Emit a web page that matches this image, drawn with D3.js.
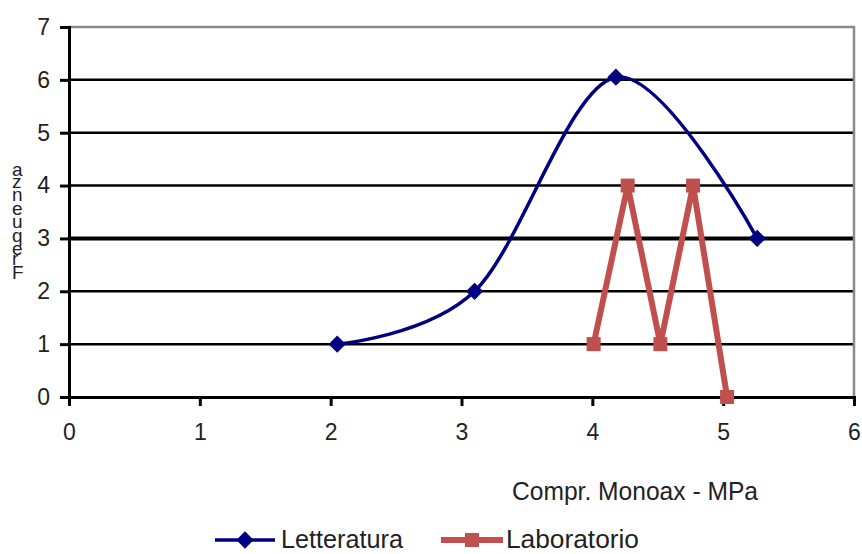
<html>
<head>
<script src="https://d3js.org/d3.v7.min.js"></script>
<style>
  body { margin: 0; background: #fff; }
  text { font-family: "Liberation Sans", Arial, sans-serif; fill: #222; }
</style>
</head>
<body>
<script>
// data
var letteraturaX = [2.05, 3.1, 4.18, 5.26];
var letteraturaY = [1, 2, 6.05, 3];
var laboratorioX = [4.01, 4.27, 4.52, 4.77, 5.03];
var laboratorioY = [1, 4, 1, 4, 0];
var xTicks = [0, 1, 2, 3, 4, 5, 6];
var yTicks = [0, 1, 2, 3, 4, 5, 6, 7];
var seriesNames = ["Letteratura", "Laboratorio"];
var xTitle = "Compr. Monoax - MPa";
var yTitle = "Frequenza";

var width = 862, height = 554;
var blue = "#000080", red = "#c0504d";

var xScale = d3.scaleLinear().domain([0, 6]).range([69, 854]);
var yScale = d3.scaleLinear().domain([0, 7]).range([397, 27]);

var svg = d3.select("body").append("svg")
    .attr("width", width)
    .attr("height", height);

// gridlines
svg.append("g")
    .selectAll("line")
    .data(yTicks.filter(function(d) { return d > 0 && d < 7; }))
    .enter()
    .append("line")
    .attr("x1", xScale(0))
    .attr("x2", xScale(6))
    .attr("y1", function(d) { return yScale(d); })
    .attr("y2", function(d) { return yScale(d); })
    .attr("stroke", "#000")
    .attr("stroke-width", function(d) { return d == 3 ? 4 : 2.5; });

// plot border top / right (grey)
svg.append("path")
    .attr("d", "M" + xScale(0) + "," + yScale(7) + "H" + xScale(6) + "V" + yScale(0))
    .attr("fill", "none")
    .attr("stroke", "#8a8a8a")
    .attr("stroke-width", 2.5);

// y axis
var yAxis = d3.axisLeft(yScale)
    .tickValues(yTicks)
    .tickSize(9)
    .tickPadding(10)
    .tickFormat(d3.format("d"));
var gy = svg.append("g")
    .attr("transform", "translate(" + xScale(0) + ",0)")
    .call(yAxis);
gy.select(".domain").attr("stroke", "#000").attr("stroke-width", 3);
gy.selectAll(".tick line").attr("stroke", "#000").attr("stroke-width", 3);
gy.selectAll(".tick text").attr("font-size", 23).attr("fill", "#222")
    .attr("font-family", "Liberation Sans, Arial");

// x axis
var xAxis = d3.axisBottom(xScale)
    .tickValues(xTicks)
    .tickSize(9)
    .tickPadding(18)
    .tickFormat(d3.format("d"));
var gx = svg.append("g")
    .attr("transform", "translate(0," + yScale(0) + ")")
    .call(xAxis);
gx.select(".domain").attr("stroke", "#000").attr("stroke-width", 3);
gx.selectAll(".tick line").attr("stroke", "#000").attr("stroke-width", 3);
gx.selectAll(".tick text").attr("font-size", 23).attr("fill", "#222")
    .attr("font-family", "Liberation Sans, Arial");

// series
var lett = letteraturaX.map(function(x, i) { return {x: x, y: letteraturaY[i]}; });
var lab = laboratorioX.map(function(x, i) { return {x: x, y: laboratorioY[i]}; });

var smooth = d3.line()
    .x(function(d) { return xScale(d.x); })
    .y(function(d) { return yScale(d.y); })
    .curve(d3.curveCardinal.tension(0));
var straight = d3.line()
    .x(function(d) { return xScale(d.x); })
    .y(function(d) { return yScale(d.y); });

svg.append("path")
    .datum(lett)
    .attr("d", smooth)
    .attr("fill", "none")
    .attr("stroke", blue)
    .attr("stroke-width", 3.5);

svg.append("path")
    .datum(lab)
    .attr("d", straight)
    .attr("fill", "none")
    .attr("stroke", red)
    .attr("stroke-width", 6)
    .attr("stroke-linejoin", "round");

var diamond = d3.symbol().type(d3.symbolDiamond2).size(190);
var square = d3.symbol().type(d3.symbolSquare).size(196);

svg.append("g")
    .selectAll("path")
    .data(lett)
    .enter()
    .append("path")
    .attr("d", diamond)
    .attr("transform", function(d) { return "translate(" + xScale(d.x) + "," + yScale(d.y) + ")"; })
    .attr("fill", blue);

svg.append("g")
    .selectAll("path")
    .data(lab)
    .enter()
    .append("path")
    .attr("d", square)
    .attr("transform", function(d) { return "translate(" + xScale(d.x) + "," + yScale(d.y) + ")"; })
    .attr("fill", red);

// axis titles
svg.append("text")
    .text(xTitle)
    .attr("x", 512)
    .attr("y", 500)
    .attr("font-size", 25)
    .attr("textLength", 246)
    .attr("lengthAdjust", "spacingAndGlyphs");

// y title: rotated text, each glyph turned back upright
svg.append("text")
    .text(yTitle)
    .attr("transform", "translate(12,222) rotate(-90)")
    .attr("text-anchor", "middle")
    .attr("rotate", 90)
    .attr("font-size", 19)
    .attr("textLength", 114)
    .attr("lengthAdjust", "spacing");

// legend
var legend = svg.append("g");
legend.append("line")
    .attr("x1", 215).attr("x2", 275)
    .attr("y1", 540).attr("y2", 540)
    .attr("stroke", blue).attr("stroke-width", 3.5);
legend.append("path")
    .attr("d", diamond)
    .attr("transform", "translate(245,540)")
    .attr("fill", blue);
legend.append("text")
    .text(seriesNames[0])
    .attr("x", 281).attr("y", 548)
    .attr("font-size", 26)
    .attr("textLength", 122)
    .attr("lengthAdjust", "spacingAndGlyphs");

legend.append("line")
    .attr("x1", 441).attr("x2", 503)
    .attr("y1", 540).attr("y2", 540)
    .attr("stroke", red).attr("stroke-width", 6);
legend.append("path")
    .attr("d", square)
    .attr("transform", "translate(472,540)")
    .attr("fill", red);
legend.append("text")
    .text(seriesNames[1])
    .attr("x", 506).attr("y", 548)
    .attr("font-size", 26)
    .attr("textLength", 133)
    .attr("lengthAdjust", "spacingAndGlyphs");
</script>
</body>
</html>
